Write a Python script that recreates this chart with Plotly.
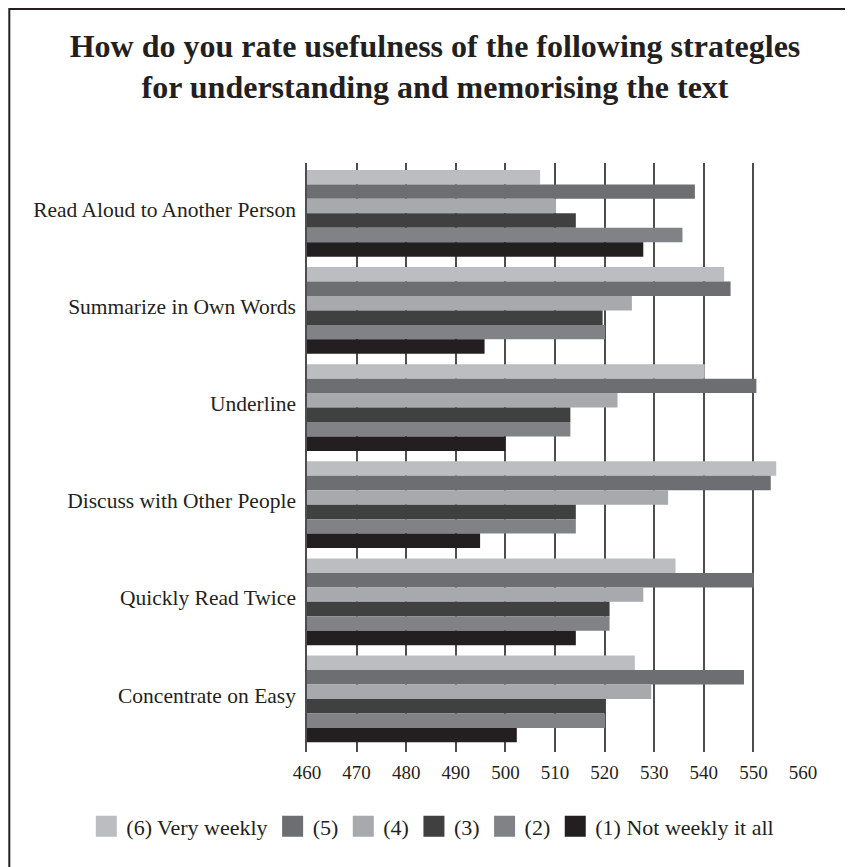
import plotly.graph_objects as go

categories = [
    "Read Aloud to Another Person",
    "Summarize in Own Words",
    "Underline",
    "Discuss with Other People",
    "Quickly Read Twice",
    "Concentrate on Easy",
]

series_names = ["(6) Very weekly", "(5)", "(4)", "(3)", "(2)", "(1) Not weekly it all"]

s6 = [507.0, 544.1, 540.2, 554.6, 534.3, 526.1]
s5 = [538.2, 545.4, 550.6, 553.5, 550.1, 548.1]
s4 = [510.2, 525.5, 522.6, 532.8, 527.8, 529.4]
s3 = [514.2, 519.6, 513.1, 514.2, 521.0, 520.1]
s2 = [535.7, 520.1, 513.1, 514.2, 521.0, 520.1]
s1 = [527.8, 495.8, 500.0, 494.9, 514.2, 502.3]

series_values = [s6, s5, s4, s3, s2, s1]
colors = ["#bcbdc0", "#6d6e71", "#a7a9ac", "#404041", "#808285", "#231f20"]

x_ticks = [460, 470, 480, 490, 500, 510, 520, 530, 540, 550, 560]
x_min = 460

FONT = "Liberation Serif"
TXT = "#231f20"

fig = go.Figure()
for name, vals, col in zip(series_names, series_values, colors):
    fig.add_trace(go.Bar(
        y=categories, x=[v - x_min for v in vals], base=x_min,
        name=name, orientation="h",
        marker=dict(color=col, line=dict(width=0)),
        showlegend=False,
    ))
for name, col in zip(series_names, colors):
    fig.add_trace(go.Scatter(
        x=[None], y=[None], mode="markers", name=name,
        marker=dict(symbol="square", size=22, color=col, line=dict(color=col, width=5)),
        showlegend=True,
    ))

# page has an 8px body margin; convert target page pixels to figure pixels
OFF = 8
W, H = 853, 867
L = 306.7 - OFF
R = W - (802.7 - OFF)
T = 163 - OFF
B = H - (751.7 - OFF)
pw, ph = W - L - R, H - T - B

def px_x(p):
    return (p - OFF - L) / pw

def px_y(p):
    return (H - B - (p - OFF)) / ph

fig.update_layout(
    width=W, height=H,
    margin=dict(l=L, r=R, t=T, b=B, autoexpand=False),
    paper_bgcolor="white", plot_bgcolor="white",
    barmode="group", bargap=0.107, bargroupgap=0,
    font=dict(family=FONT, color=TXT),
    title=dict(
        text="How do you rate usefulness of the following strategles<br>for understanding and memorising the text",
        font=dict(family=FONT, size=32, color=TXT, weight="bold"),
        x=(435 - OFF) / W, xref="container", xanchor="center",
        y=1 - 48.5 / H, yref="container", yanchor="middle",
    ),
    xaxis=dict(
        range=[460, 560], tickvals=x_ticks, ticktext=[str(t) for t in x_ticks],
        showgrid=True, gridcolor="#4d4d4f", gridwidth=1.5,
        zeroline=False, showline=False, ticks="",
        tickfont=dict(family=FONT, size=19, color=TXT),
        ticklabelstandoff=7,
    ),
    yaxis=dict(
        type="category", categoryorder="array", categoryarray=categories,
        range=[5.546, -0.518],
        showgrid=False, zeroline=False, ticks="",
        showline=True, linecolor="#4d4d4f", linewidth=1.5,
        tickfont=dict(family=FONT, size=21.5, color=TXT),
        ticklabelstandoff=5, ticklabelshift=4,
    ),
    legend=dict(
        orientation="h", x=px_x(86), xanchor="left", y=px_y(826), yanchor="middle",
        font=dict(family=FONT, size=22, color=TXT),
        itemsizing="trace", bgcolor="rgba(0,0,0,0)",
    ),
    shapes=[dict(
        type="rect", xref="paper", yref="paper",
        x0=px_x(OFF + 1), x1=px_x(900), y0=px_y(900), y1=px_y(OFF + 1),
        line=dict(color="#231f20", width=2), fillcolor="rgba(0,0,0,0)", layer="below",
    )],
)

fig.write_html("out.html")
